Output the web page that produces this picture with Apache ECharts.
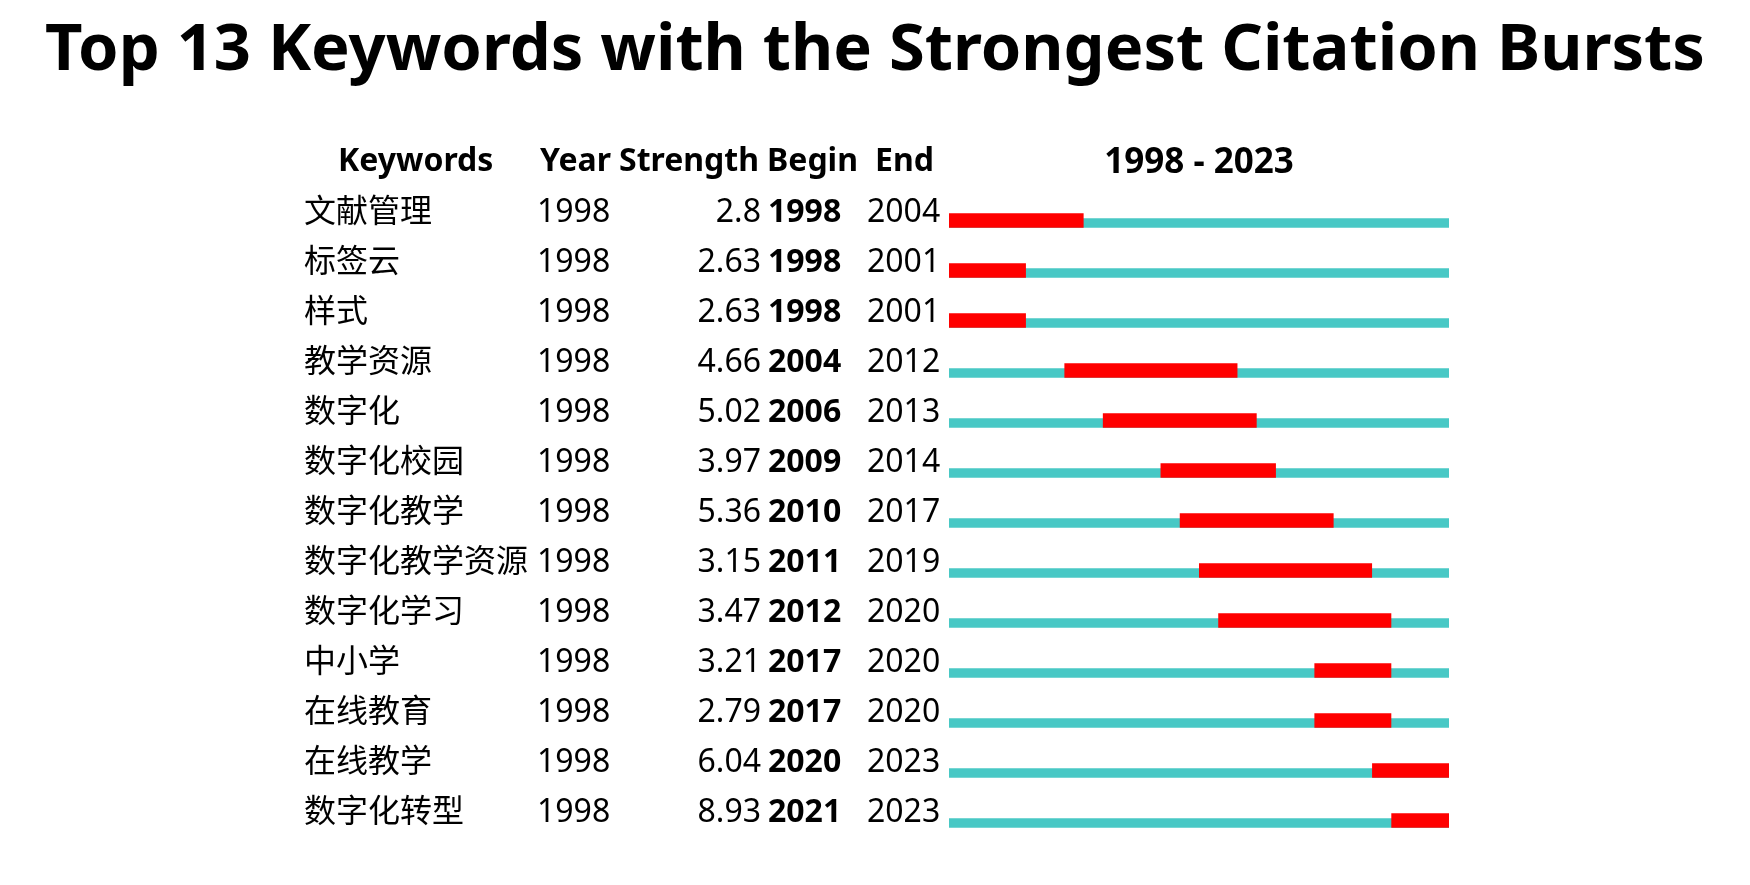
<!DOCTYPE html>
<html>
<head>
<meta charset="utf-8">
<script src="https://cdn.jsdelivr.net/npm/echarts@6/dist/echarts.min.js"></script>
<style>
html,body{margin:0;padding:0;background:#fff;}
#chart{width:1750px;height:885px;}
</style>
</head>
<body>
<div id="chart"></div>
<script>
// ---- data ----
var keywords = ['文献管理','标签云','样式','教学资源','数字化','数字化校园','数字化教学','数字化教学资源','数字化学习','中小学','在线教育','在线教学','数字化转型'];
var years = [1998,1998,1998,1998,1998,1998,1998,1998,1998,1998,1998,1998,1998];
var strengths = ['2.8','2.63','2.63','4.66','5.02','3.97','5.36','3.15','3.47','3.21','2.79','6.04','8.93'];
var begins = [1998,1998,1998,2004,2006,2009,2010,2011,2012,2017,2017,2020,2021];
var ends = [2004,2001,2001,2012,2013,2014,2017,2019,2020,2020,2020,2023,2023];
var MIN_YEAR = 1998, MAX_YEAR = 2023;
var headers = ['Keywords','Year','Strength','Begin','End'];
var titleText = 'Top 13 Keywords with the Strongest Citation Bursts';

// ---- styles ----
var RED = '#FF0000', TEAL = '#48C8C5';
var FONT = '"Noto Sans","Noto Sans CJK SC",sans-serif';
var TXT = 32;

var rows = keywords.map(function(k, i){
  return [i, begins[i], ends[i], years[i], strengths[i]];
});

var chart = echarts.init(document.getElementById('chart'), null, {renderer:'canvas'});

var option = {
  backgroundColor: '#fff',
  animation: false,
  title: {
    text: titleText,
    left: 'center',
    top: 14,
    textStyle: {fontFamily: FONT, fontSize: 65, fontWeight: 'bold', color: '#000'}
  },
  grid: {left: 949, right: 301, top: 185, height: 650},
  xAxis: {type: 'value', min: MIN_YEAR, max: MAX_YEAR + 1, show: false},
  yAxis: {type: 'category', data: keywords, inverse: true, show: false},
  graphic: [
    {type:'text', left: 338, top: 146, style:{text: headers[0], font: 'bold '+TXT+'px '+FONT, fill:'#000'}},
    {type:'text', left: 540, top: 146, style:{text: headers[1], font: 'bold '+TXT+'px '+FONT, fill:'#000'}},
    {type:'text', left: 619, top: 146, style:{text: headers[2], font: 'bold '+TXT+'px '+FONT, fill:'#000'}},
    {type:'text', left: 767, top: 146, style:{text: headers[3], font: 'bold '+TXT+'px '+FONT, fill:'#000'}},
    {type:'text', left: 875, top: 146, style:{text: headers[4], font: 'bold '+TXT+'px '+FONT, fill:'#000'}}
  ],
  series: [
    {
      type: 'custom',
      data: rows,
      encode: {x: [1, 2], y: 0},
      renderItem: function(params, api){
        var i = api.value(0);
        var b = api.value(1), e = api.value(2);
        var s = api.coord([MIN_YEAR, i]);
        var t = api.coord([MAX_YEAR + 1, i]);
        var rs = api.coord([b, i]);
        var re = api.coord([e + 1, i]);
        var cy = s[1];
        return {type:'group', children:[
          {type:'rect', shape:{x:s[0], y:cy+8.3, width:t[0]-s[0], height:9.4}, style:{fill:TEAL}},
          {type:'rect', shape:{x:rs[0], y:cy+3.3, width:re[0]-rs[0], height:14.4}, style:{fill:RED}}
        ]};
      }
    },
    {
      type: 'custom',
      data: rows,
      encode: {y: 0},
      renderItem: function(params, api){
        var i = api.value(0);
        var cy = api.coord([MIN_YEAR, i])[1] + 3;
        var f = TXT+'px '+FONT, fb = 'bold '+TXT+'px '+FONT;
        return {type:'group', children:[
          {type:'text', style:{text: keywords[i], x:304, y:cy, font:f, fill:'#000', verticalAlign:'middle', align:'left'}},
          {type:'text', style:{text: String(years[i]), x:537, y:cy, font:f, fill:'#000', verticalAlign:'middle', align:'left'}},
          {type:'text', style:{text: strengths[i], x:761, y:cy, font:f, fill:'#000', verticalAlign:'middle', align:'right'}},
          {type:'text', style:{text: String(begins[i]), x:768, y:cy, font:fb, fill:'#000', verticalAlign:'middle', align:'left'}},
          {type:'text', style:{text: String(ends[i]), x:867, y:cy, font:f, fill:'#000', verticalAlign:'middle', align:'left'}}
        ]};
      }
    },
    {
      type: 'custom',
      data: [[0]],
      renderItem: function(params, api){
        var a = api.coord([MIN_YEAR, 0]);
        var b = api.coord([MAX_YEAR + 1, 0]);
        return {type:'text', style:{text: MIN_YEAR + ' - ' + MAX_YEAR, x:(a[0]+b[0])/2, y:a[1]-47, font:'bold 35px '+FONT, fill:'#000', align:'center', verticalAlign:'middle'}};
      }
    }
  ]
};
chart.setOption(option);
</script>
</body>
</html>
